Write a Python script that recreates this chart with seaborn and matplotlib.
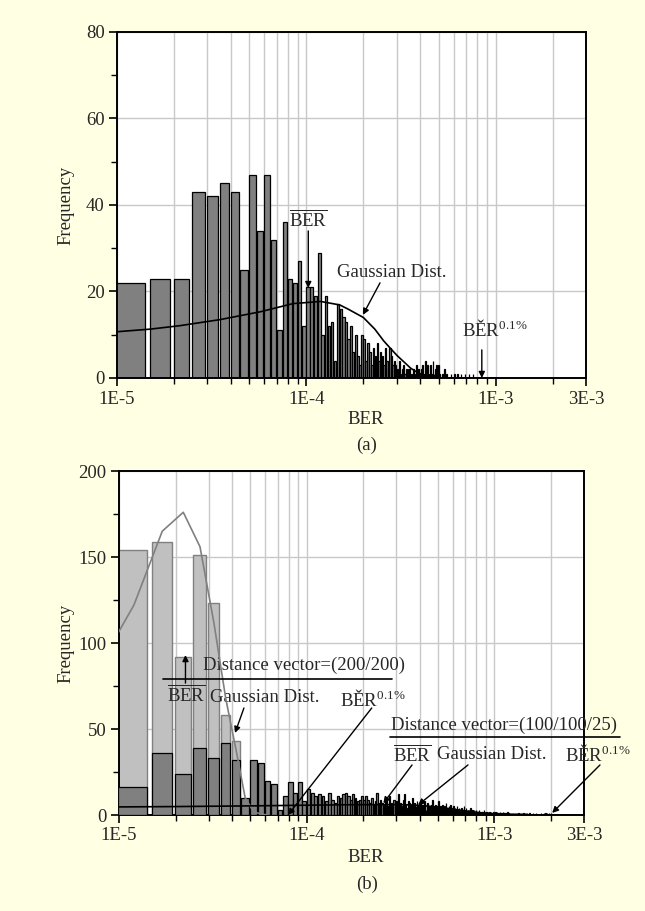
import numpy as np
import pandas as pd
import matplotlib
matplotlib.use("Agg")
import matplotlib.pyplot as plt
from matplotlib.ticker import FixedLocator, FixedFormatter, NullFormatter, MultipleLocator
import seaborn as sns

# ------------------------------------------------------------------ data
BIN_START = 1.2e-5      # centre of the first BER bin
BIN_STEP = 0.5e-5       # BER quantisation step (bin width)

# (a) histogram counts, bins k = 0..99
top_counts = [22, 23, 23, 43, 42, 45, 43, 25, 47, 34,
              47, 32, 11, 36, 23, 22, 27, 12, 21, 21,
              19, 29, 10, 19, 12, 13, 4, 17, 16, 14,
              13, 9, 12, 6, 10, 5, 3, 10, 9, 4,
              8, 6, 3, 7, 5, 8, 4, 6, 5, 3,
              7, 4, 2, 7, 5, 3, 4, 3, 2, 1,
              4, 1, 2, 3, 1, 2, 0, 2, 2, 1,
              1, 2, 0, 1, 3, 1, 2, 0, 1, 2,
              3, 1, 0, 4, 2, 3, 1, 0, 3, 1,
              0, 4, 1, 0, 2, 3, 1, 3, 0, 1]
# sparse tail of (a): bin index -> count (other bins up to 149 are empty)
top_tail_bins = [102, 105, 108, 114, 119, 123, 129, 135, 142, 149]
top_tail_counts = [1, 2, 1, 1, 1, 1, 1, 1, 1, 1]

# (a) Gaussian fit
top_gauss_ber = [1.0e-5, 1.5e-5, 2.15e-5, 3.5e-5, 5.7e-5, 8.5e-5, 1.19e-4, 1.5e-4,
                 1.65e-4, 2.0e-4, 2.3e-4, 2.56e-4, 2.8e-4, 3.03e-4, 3.3e-4, 3.55e-4,
                 3.85e-4, 4.16e-4, 4.6e-4, 5.1e-4, 6.0e-4, 8.0e-4, 1.0e-3]
top_gauss_freq = [10.7, 11.3, 12.1, 13.5, 15.3, 17.2, 17.7, 16.9,
                  16.0, 14.0, 11.3, 8.6, 6.7, 5.1, 3.6, 2.3,
                  1.3, 0.7, 0.25, 0.05, 0.0, 0.0, 0.0]

# (b) distance vector (200/200): light bars, bins k = 0..6
light_counts = [154, 159, 92, 151, 123, 58, 43]
# its Gaussian, drawn as a polyline through bins k = -1..10
light_gauss_freq = [77, 122, 165, 176, 156, 112, 68, 38, 10, 2, 0.5, 0]

# (b) distance vector (100/100/25): dark bars, bins k = 0..300
dark_counts = [16, 36, 24, 39, 33, 42, 32, 10, 32, 30, 20, 18,
               3, 11, 19, 13, 19, 8, 15, 13, 11, 12, 11, 8, 13, 9, 7, 11, 10, 12,
               13, 11, 9, 12, 10, 8, 9, 11, 9, 11, 9,
               7, 10, 6, 8, 13, 7, 9, 7, 6, 10, 8, 5, 11, 7, 6, 9, 5, 8, 12, 6,
               7, 5, 9, 12, 6, 4, 8, 7, 5, 6, 10, 4, 7, 5, 8, 6, 3, 7, 5, 6,
               4, 8, 5, 3, 6, 7, 4, 5, 3, 6, 9, 4, 5, 3, 6, 4, 5, 8, 3, 4,
               5, 3, 6, 2, 4, 5, 3, 7, 2, 4, 3, 5, 2, 6, 3, 4, 2, 3, 5, 2,
               4, 3, 1, 5, 2, 3, 4, 2, 3, 1, 4, 2, 3, 2, 5, 1, 3, 2, 4, 1,
               2, 3, 1, 3, 2, 1, 4, 2, 1, 3,
               2, 1, 3, 2, 1, 2, 3, 1, 2, 0, 2, 1, 3, 1, 2, 1, 0, 2, 1, 2,
               1, 1, 3, 0, 1, 2, 1, 0, 2, 1, 1, 2, 0, 1, 1, 2, 0, 1, 2, 1,
               0, 1, 1, 0, 2, 1, 0, 1, 1, 2,
               1, 0, 1, 2, 0, 1, 0, 1, 1, 0, 2, 0, 1, 0, 1, 0, 0, 1, 2, 0,
               1, 0, 0, 1, 0, 1, 1, 0, 0, 1, 0, 2, 0, 0, 1, 0, 1, 0, 0, 1,
               0, 0, 1, 0, 1, 0, 0, 0, 1, 0,
               0, 1, 0, 0, 1, 0, 0, 0, 1, 0, 0, 1, 0, 0, 0, 1, 0, 0, 0, 0,
               1, 0, 0, 1, 0, 0, 0, 0, 1, 0, 0, 0, 1, 0, 0, 0, 0, 1, 0, 0,
               0, 1, 0, 0, 0, 0, 1, 0, 0, 0]
dark_tail_bins = [305, 318, 330, 352, 365, 372, 380, 390, 396]
dark_tail_counts = [1, 1, 1, 1, 1, 1, 1, 1, 1]

# (b) Gaussian of the dark distribution
dark_gauss_ber = [1e-5, 2e-5, 5e-5, 1e-4, 1.5e-4, 2e-4, 2.5e-4, 3e-4, 3.5e-4, 4e-4,
                  5e-4, 6e-4, 7e-4, 8.3e-4, 1e-3, 1.2e-3, 1.5e-3, 2e-3, 3e-3]
dark_gauss_freq = [4.7, 4.9, 5.3, 5.7, 5.9, 6.0, 6.0, 6.0, 5.9, 5.6,
                   4.6, 3.4, 2.4, 1.4, 0.6, 0.2, 0.05, 0.0, 0.0]

x_major = [1e-5, 1e-4, 1e-3, 3e-3]
x_major_labels = ["1E-5", "1E-4", "1E-3", "3E-3"]
x_minor = [2e-5, 3e-5, 4e-5, 5e-5, 6e-5, 7e-5, 8e-5, 9e-5,
           2e-4, 3e-4, 4e-4, 5e-4, 6e-4, 7e-4, 8e-4, 9e-4, 2e-3]


def full_series(head, tail_bins, tail_counts, n):
    arr = np.zeros(n)
    arr[:len(head)] = head
    if tail_bins:
        arr[np.array(tail_bins)] = tail_counts
    return arr


def centers(n, first=0):
    return BIN_START + BIN_STEP * np.arange(first, first + n)


def edges(n):
    return list(BIN_START - BIN_STEP / 2 + BIN_STEP * np.arange(n + 1))


def hist(ax, counts, **kw):
    n = len(counts)
    df = pd.DataFrame({"ber": centers(n), "count": np.asarray(counts, dtype=float)})
    sns.histplot(data=df, x="ber", weights="count", bins=edges(n), shrink=0.84,
                 alpha=1, ax=ax, **kw)


# ------------------------------------------------------------------ style
sns.set_style("ticks")
plt.rcParams["font.family"] = ["Liberation Serif", "DejaVu Serif"]
plt.rcParams["mathtext.fontset"] = "custom"
plt.rcParams["mathtext.rm"] = "Liberation Serif"
plt.rcParams["mathtext.it"] = "Liberation Serif:italic"
plt.rcParams["mathtext.bf"] = "Liberation Serif:bold"

BG = "#FFFFE4"
FS = 13.5
W, H = 645.0, 911.0

fig = plt.figure(figsize=(6.45, 9.11), dpi=100, facecolor=BG)


def rect(l, r, t, b):
    return [l / W, 1 - b / H, (r - l) / W, (b - t) / H]


ax1 = fig.add_axes(rect(117, 586, 32, 378))
ax2 = fig.add_axes(rect(119, 584, 471, 815))

# ------------------------------------------------------------------ (a)
top_full = full_series(top_counts, top_tail_bins, top_tail_counts, 150)
hist(ax1, top_full, color="#808080", edgecolor="black", linewidth=0.9, zorder=2)
sns.lineplot(x=top_gauss_ber, y=top_gauss_freq, color="black", lw=1.2,
             estimator=None, sort=False, ax=ax1, zorder=4)

# ------------------------------------------------------------------ (b)
hist(ax2, light_counts, color="#c0c0c0", edgecolor="#808080", linewidth=1.0, zorder=2)
dark_full = full_series(dark_counts, dark_tail_bins, dark_tail_counts, 398)
hist(ax2, dark_full, color="#808080", edgecolor="black", linewidth=0.9, zorder=3)
sns.lineplot(x=centers(len(light_gauss_freq), first=-1), y=light_gauss_freq,
             color="#808080", lw=1.2, estimator=None, sort=False, ax=ax2, zorder=4)
sns.lineplot(x=dark_gauss_ber, y=dark_gauss_freq, color="black", lw=1.2,
             estimator=None, sort=False, ax=ax2, zorder=5)


def style(ax, ymax, ymaj, ymin):
    ax.set_xscale("log")
    ax.set_xlim(1e-5, 3e-3)
    ax.set_ylim(0, ymax)
    ax.xaxis.set_major_locator(FixedLocator(x_major))
    ax.xaxis.set_major_formatter(FixedFormatter(x_major_labels))
    ax.xaxis.set_minor_locator(FixedLocator(x_minor))
    ax.xaxis.set_minor_formatter(NullFormatter())
    ax.yaxis.set_major_locator(MultipleLocator(ymaj))
    ax.yaxis.set_minor_locator(MultipleLocator(ymin))
    ax.grid(True, which="both", axis="x", color="#c8c8c8", lw=1)
    ax.grid(True, which="major", axis="y", color="#c8c8c8", lw=1)
    ax.set_axisbelow(True)
    ax.tick_params(which="major", direction="out", length=6, width=1.2,
                   labelsize=FS, pad=3, color="black")
    ax.tick_params(which="minor", direction="out", length=4, width=1, color="black")
    for s in ax.spines.values():
        s.set_visible(True)
        s.set_color("black")
        s.set_linewidth(1.4)
    ax.set_xlabel("")
    ax.set_ylabel("")
    ax.set_facecolor("white")


style(ax1, 80, 20, 10)
style(ax2, 200, 50, 25)

arrow = dict(arrowstyle="-|>", color="black", lw=1.0, shrinkA=0, shrinkB=0,
             mutation_scale=9)


def arr(ax, tail, head):
    ax.annotate("", xy=head, xytext=tail, arrowprops=arrow, annotation_clip=False)


def txt(ax, x, y, s, **kw):
    ax.text(x, y, s, fontsize=FS, ha="left", va="center", clip_on=False, **kw)


# annotations (a)
ax1.text(1.021e-4, 36.5, r"$\overline{\mathrm{BER}}$", fontsize=FS, ha="center", va="center")
arr(ax1, (1.024e-4, 34.0), (1.024e-4, 20.8))
ax1.text(2.82e-4, 24.3, "Gaussian Dist.", fontsize=FS, ha="center", va="center")
arr(ax1, (2.45e-4, 22.0), (1.99e-4, 14.6))
txt(ax1, 6.64e-4, 11.1, "BĚR$^{0.1\\%}$")
arr(ax1, (8.45e-4, 6.5), (8.45e-4, 0))

# annotations (b)
txt(ax2, 2.80e-5, 87.2, "Distance vector=(200/200)")
sns.lineplot(x=[1.715e-5, 2.85e-4], y=[79.1, 79.1], color="black", lw=1.2,
             estimator=None, ax=ax2, zorder=6)
txt(ax2, 1.80e-5, 69.8, r"$\overline{\mathrm{BER}}$")
arr(ax2, (2.26e-5, 76.7), (2.26e-5, 93.0))
txt(ax2, 3.05e-5, 68.6, "Gaussian Dist.")
arr(ax2, (4.63e-5, 62.2), (4.15e-5, 47.7))
txt(ax2, 1.50e-4, 66.9, "BĚR$^{0.1\\%}$")
arr(ax2, (2.22e-4, 62.2), (7.95e-5, 0))

txt(ax2, 2.81e-4, 52.3, "Distance vector=(100/100/25)")
ax2.plot([2.78e-4, 4.67e-3], [45.3, 45.3], color="black", lw=1.2, clip_on=False, zorder=6)
txt(ax2, 2.88e-4, 34.9, r"$\overline{\mathrm{BER}}$")
arr(ax2, (3.64e-4, 29.1), (2.56e-4, 6.8))
txt(ax2, 4.95e-4, 34.9, "Gaussian Dist.")
arr(ax2, (7.23e-4, 29.1), (3.92e-4, 5.8))
txt(ax2, 2.38e-3, 34.9, "BĚR$^{0.1\\%}$")
arr(ax2, (3.65e-3, 29.1), (2.03e-3, 1.2))


# axis titles and panel captions
def ftxt(px, py, s, **kw):
    fig.text(px / W, 1 - py / H, s, fontsize=FS, ha="center", va="center", **kw)


ftxt(66, 205, "Frequency", rotation=90)
ftxt(66, 643, "Frequency", rotation=90)
ftxt(366, 420, "BER")
ftxt(367, 445, "(a)")
ftxt(366, 858, "BER")
ftxt(367, 884, "(b)")

fig.savefig("out.png", dpi=100, facecolor=BG)
